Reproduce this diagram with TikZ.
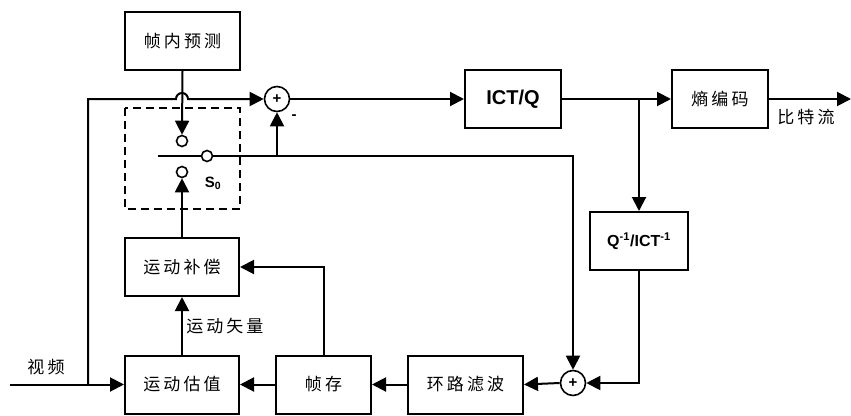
\documentclass[tikz,border=0pt]{standalone}
\usepackage{fontspec}
\setmainfont{Liberation Sans}
\newfontfamily\cjk[LetterSpace=18]{Noto Sans CJK SC}
\usetikzlibrary{arrows.meta}

\begin{document}
\begin{tikzpicture}[x=1pt, y=-1pt, line width=2pt,
  blk/.style={draw, inner sep=0pt, minimum height=58pt},
  cn/.style={font=\cjk\fontsize{17}{19}\selectfont},
  en/.style={font=\bfseries\fontsize{20}{22}\selectfont},
  arr/.style={-{Triangle[length=14pt,width=14pt]}},
  sumc/.style={draw, circle, minimum size=25pt, inner sep=0pt, line width=1.6pt,
               font=\bfseries\fontsize{15}{15}\selectfont},
  term/.style={draw, circle, minimum size=11pt, inner sep=0pt, line width=1.6pt, fill=white}]

\useasboundingbox (0,0) rectangle (851,415);

%% blocks
\node[blk, cn, minimum width=115pt] (intra)   at (182.5,41)  {帧内预测};
\node[blk, en, minimum width=96pt]  (ictq)    at (513,99)    {ICT/Q};
\node[blk, cn, minimum width=96pt]  (entropy) at (720,99)    {熵编码};
\node[blk, minimum width=98pt, font=\bfseries\fontsize{16}{18}\selectfont]
  (iq) at (639,241) {Q\textsuperscript{-1}/ICT\textsuperscript{-1}};
\node[blk, cn, minimum width=114pt] (mc)      at (182,267)   {运动补偿};
\node[blk, cn, minimum width=114pt] (me)      at (182,384.5) {运动估值};
\node[blk, cn, minimum width=95pt]  (fbuf)    at (323.5,384.5) {帧存};
\node[blk, cn, minimum width=115pt] (loopf)   at (465.5,384.5) {环路滤波};

%% adders
\node[sumc] (sum1) at (277,99)  {+};
\node[sumc] (sum2) at (573,383) {+};

%% switch S0
\draw[dash pattern=on 8pt off 5pt, line width=1.8pt] (125,108) rectangle (240,209);
\node[term] (t1) at (182,141) {};
\node[term] (t2) at (207,156) {};
\node[term] (t3) at (182,172) {};
\coordinate (lever) at (158,156);
\node[font=\bfseries\fontsize{15}{17}\selectfont] (s0) at (213,183) {S\textsubscript{0}};

%% forward path
\coordinate (vin)  at (10,384.5);
\coordinate (vb)   at (88,384.5);
\coordinate (hopL) at (176,99);
\draw[arr] (vin) -- (me.west);
\draw[arr] (vb) |- (hopL) arc[start angle=180, end angle=0, radius=6pt] -- (sum1.west);
\draw[arr] (intra.south) -- (t1.north);
\draw[arr] (sum1.east) -- (ictq.west);
\draw[arr] (ictq.east) -- (entropy.west);
\coordinate (out) at (851,99);
\draw[arr] (entropy.east) -- (out);
\node[cn] (bits) at (806,117) {比特流};
\node[cn] (video) at (46,367) {视频};

%% switch output
\draw (lever) -- (t2.west);
\draw[arr] (t2.east) -| (sum2.north);
\coordinate (br1) at (sum1 |- t2);
\draw[arr] (br1) -- (sum1.south);
\node[font=\bfseries\fontsize{15}{15}\selectfont] (minus) at (294,117) {-};

%% reconstruction loop
\coordinate (br2) at (639,99);
\draw[arr] (br2) -- (iq.north);
\draw[arr] (iq.south) |- (sum2.east);
\draw[arr] (sum2.west) -- (loopf.east);
\draw[arr] (loopf.west) -- (fbuf.east);
\draw[arr] (fbuf.west) -- (me.east);
\draw[arr] (fbuf.north) |- (mc.east);
\draw[arr] (me.north) -- (mc.south) node[midway, right, cn] (mv) {运动矢量};
\draw[arr] (mc.north) -- (t3.south);

\end{tikzpicture}
\end{document}
